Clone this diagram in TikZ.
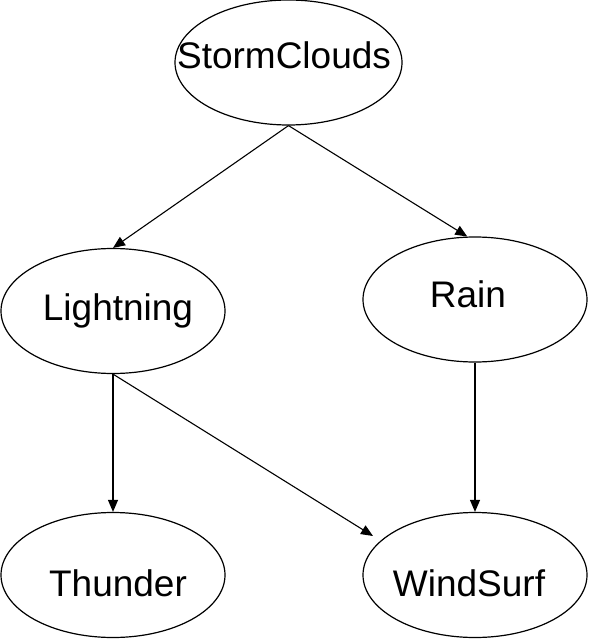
\documentclass[tikz,border=0pt]{standalone}
\usepackage{fontspec}
\setmainfont{Liberation Sans}
\usetikzlibrary{shapes.geometric,arrows.meta}
\begin{document}
\begin{tikzpicture}[x=1pt,y=-1pt,
  bnode/.style={draw,ellipse,line width=1.2pt,minimum width=224pt,minimum height=125pt,inner sep=0pt},
  lbl/.style={anchor=base,font=\fontsize{37}{40}\selectfont,inner sep=0pt},
  arr/.style={line width=1.1pt,-{Triangle[length=12pt,width=10pt]}}]
\useasboundingbox (0,0) rectangle (589,639);
\node[bnode,minimum width=227pt] (sc) at (288.5,62.5) {};
\node[bnode] (li) at (113,311) {};
\node[bnode] (ra) at (475,299.5) {};
\node[bnode] (th) at (113,575) {};
\node[bnode] (ws) at (475,575) {};
\node[lbl] (tsc) at (284,69) {StormClouds};
\node[lbl] (tli) at (118,320) {Lightning};
\node[lbl] (tra) at (468,307) {Rain};
\node[lbl] (tth) at (118,596) {Thunder};
\node[lbl] (tws) at (469,596) {WindSurf};
\coordinate (wstip) at (373,536);
\draw[arr] (sc.south) -- (li.north);
\draw[arr] (sc.south) -- (ra.97);
\draw[arr] (li.south) -- (th.north);
\draw[arr] (ra.south) -- (ws.north);
\draw[arr] (li.south) -- (wstip);
\end{tikzpicture}
\end{document}
